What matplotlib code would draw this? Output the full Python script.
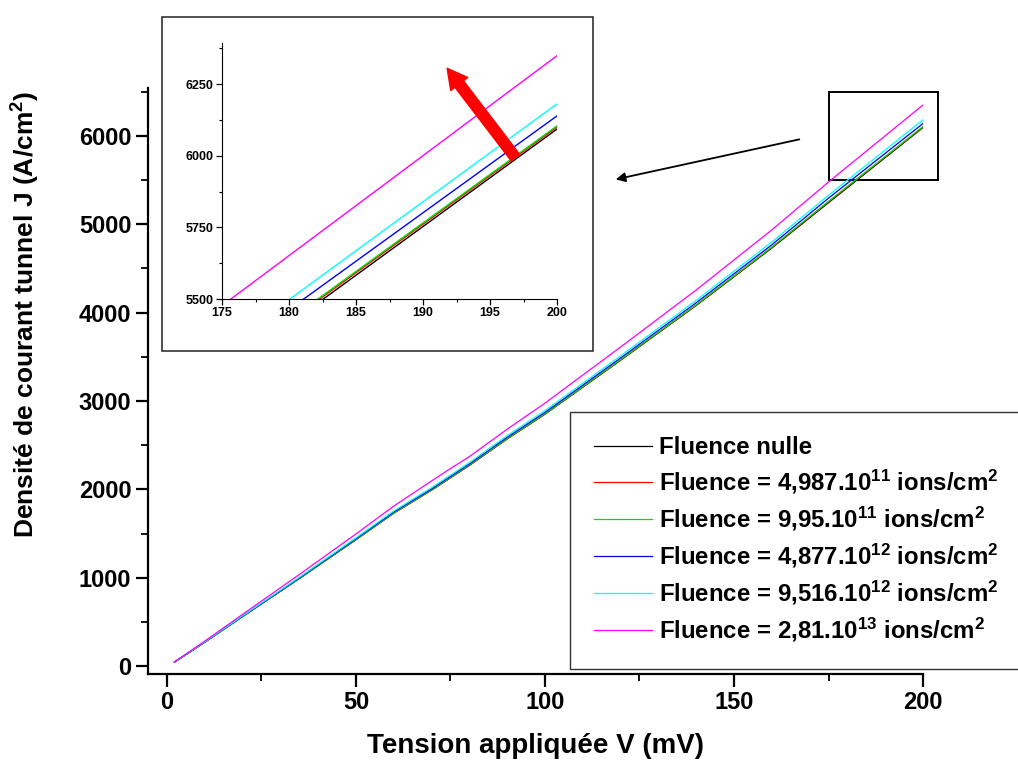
import matplotlib
matplotlib.use("Agg")
import matplotlib.pyplot as plt
from matplotlib.patches import Rectangle
from matplotlib.ticker import MultipleLocator

plt.rcParams['font.family'] = ['Liberation Sans', 'DejaVu Sans']
plt.rcParams['font.weight'] = 'bold'
plt.rcParams['mathtext.fontset'] = 'custom'
plt.rcParams['mathtext.rm'] = 'Liberation Sans:bold'
plt.rcParams['mathtext.bf'] = 'Liberation Sans:bold'
plt.rcParams['mathtext.default'] = 'bf'

# Applied voltage (mV)
tension = [2, 10, 20, 35, 50, 60, 70, 75, 80, 90, 100, 120, 140, 160, 175, 200]

# Tunnel current density (A/cm2) for each fluence
j_nulle = [45, 270, 560, 990, 1430, 1730, 1990, 2130, 2270, 2570, 2850, 3460, 4080, 4730, 5243, 6093]
j_4987e11 = [45, 270, 561, 991, 1432, 1732, 1993, 2133, 2273, 2574, 2854, 3464, 4085, 4736, 5253, 6100]
j_995e11 = [45, 271, 561, 992, 1433, 1733, 1995, 2135, 2276, 2576, 2856, 3467, 4088, 4740, 5258, 6104]
j_4877e12 = [45, 272, 564, 997, 1441, 1743, 2005, 2146, 2287, 2589, 2871, 3486, 4111, 4766, 5294, 6139]
j_9516e12 = [46, 274, 568, 1004, 1451, 1755, 2019, 2161, 2303, 2607, 2891, 3510, 4139, 4798, 5327, 6181]
j_281e13 = [47, 282, 585, 1035, 1495, 1810, 2095, 2235, 2370, 2680, 2975, 3610, 4255, 4935, 5477, 6349]

series = [j_nulle, j_4987e11, j_995e11, j_4877e12, j_9516e12, j_281e13]
labels = [
    'Fluence nulle',
    r'Fluence = 4,987.10$^{11}$ ions/cm$^2$',
    r'Fluence = 9,95.10$^{11}$ ions/cm$^2$',
    r'Fluence = 4,877.10$^{12}$ ions/cm$^2$',
    r'Fluence = 9,516.10$^{12}$ ions/cm$^2$',
    r'Fluence = 2,81.10$^{13}$ ions/cm$^2$',
]
colors = ['black', '#ff0000', '#00e000', '#0000ff', '#00ffff', '#ff00ff']

fig = plt.figure(figsize=(10.18, 7.63), dpi=100)

# Main axes
ax = fig.add_axes([0.1454, 0.1166, 0.7613, 0.768])
for y, lab, c in zip(series, labels, colors):
    ax.plot(tension, y, color=c, lw=0.9, label=lab)

ax.set_xlim(-5, 200)
ax.set_ylim(-90, 6540)
ax.xaxis.set_major_locator(MultipleLocator(50))
ax.xaxis.set_minor_locator(MultipleLocator(25))
ax.yaxis.set_major_locator(MultipleLocator(1000))
ax.yaxis.set_minor_locator(MultipleLocator(500))
for s in ['top', 'right']:
    ax.spines[s].set_visible(False)
for s in ['left', 'bottom']:
    ax.spines[s].set_linewidth(1.6)
ax.tick_params(which='major', direction='out', length=9, width=1.6, labelsize=17, pad=3)
ax.tick_params(which='minor', direction='out', length=5, width=1.3)

ax.set_xlabel('Tension appliquée V (mV)', fontsize=20, fontweight='bold', labelpad=14)
ax.set_ylabel(r'Densité de courant tunnel J (A/cm$^2$)', fontsize=19, fontweight='bold')
ax.yaxis.set_label_coords(-0.137, 0.614)

# Zoom box and pointer arrow
ax.add_patch(Rectangle((175, 5500), 29, 990, fill=False, ec='black', lw=1.4, clip_on=False))
ax.annotate('', xy=(118, 5500), xytext=(168, 5966),
            arrowprops=dict(arrowstyle='-|>', color='black', lw=1.3, mutation_scale=14))

leg = ax.legend(loc='upper left', bbox_to_anchor=(0.56, 0.46), bbox_transform=fig.transFigure,
                borderaxespad=0, fontsize=17.3, frameon=True, fancybox=False,
                handlelength=2.4, handletextpad=0.3, labelspacing=0.37, borderpad=1.0)
leg.get_frame().set_edgecolor('black')
leg.get_frame().set_linewidth(1.0)
for t in leg.get_texts():
    t.set_fontweight('bold')

# Inset frame
fig.patches.append(Rectangle((162 / 1018, 1 - 351 / 763), 431 / 1018, 334 / 763,
                             transform=fig.transFigure, fill=True, fc='white',
                             ec='#333333', lw=1.2, zorder=2))

# Inset axes
axi = fig.add_axes([0.2181, 0.6081, 0.3291, 0.3355], zorder=3)
for y, c in zip(series, colors):
    axi.plot(tension, y, color=c, lw=1.0)
axi.set_xlim(175, 200)
axi.set_ylim(5500, 6393)
axi.xaxis.set_major_locator(MultipleLocator(5))
axi.xaxis.set_minor_locator(MultipleLocator(2.5))
axi.yaxis.set_major_locator(MultipleLocator(250))
axi.yaxis.set_minor_locator(MultipleLocator(125))
for s in ['top', 'right']:
    axi.spines[s].set_visible(False)
axi.tick_params(which='major', direction='out', length=4, width=0.9, labelsize=9, pad=2)
axi.tick_params(which='minor', direction='out', length=2.5, width=0.8)
axi.annotate('', xy=(191.8, 6305), xytext=(196.9, 5993),
             arrowprops=dict(arrowstyle='simple,head_length=0.65,head_width=0.7,tail_width=0.35',
                             color='red', mutation_scale=22, shrinkA=0, shrinkB=0))

fig.savefig('out.png', dpi=100)
